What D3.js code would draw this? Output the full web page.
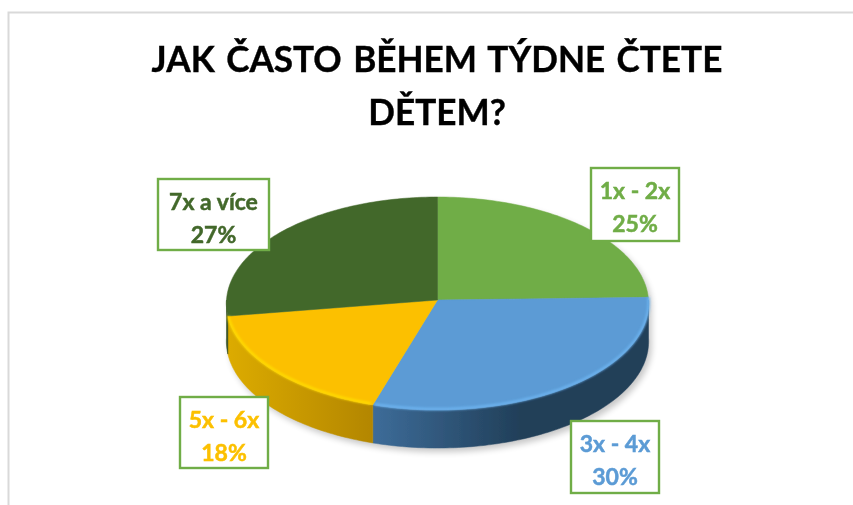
<!DOCTYPE html>
<html>
<head>
<meta charset="utf-8">
<script src="https://cdn.jsdelivr.net/npm/d3@7"></script>
<style>
  html, body { margin: 0; padding: 0; background: #fff; }
  svg { display: block; }
  text { font-family: Lato, "Open Sans", sans-serif; font-weight: 700; }
</style>
</head>
<body>
<div id="chart"></div>
<script>
var w = 853;
var h = 505;

var titleLines = ["JAK ČASTO BĚHEM TÝDNE ČTETE", "DĚTEM?"];
var categories = ["1x - 2x", "3x - 4x", "5x - 6x", "7x a více"];
var percentLabels = ["25%", "30%", "18%", "27%"];
var values = [24.6, 30.2, 17.8, 27.4];

var colors = ["#70ad47", "#5b9bd5", "#fcc000", "#43682b"];
var rimColors = [null, "#6db3ef", "#ffdc00", null];
var sideStops = [
  ["#3f6a2a", "#3f6a2a"],
  ["#3d6c99", "#213f59"],
  ["#dcab00", "#b38600"],
  ["#2e4a1d", "#2e4a1d"]
];
var sideRanges = [[640, 660], [373, 520], [228, 373], [220, 240]];
// label box: left, top, width, height
var boxes = [
  [591, 168, 88, 73],
  [571, 421, 88, 72],
  [180, 397, 88, 71],
  [158, 179, 111, 71]
];

var cx = 437.5;
var cy = 300;
var rx = 211;
var ry = 106.4;
var persp = 0.033;
var depth = 38;

function project(a, dy) {
  var s = 1 / (1 + persp * Math.cos(a));
  return [cx + rx * Math.sin(a) * s, cy - ry * Math.cos(a) * s + (dy || 0)];
}

function arcPoints(a0, a1, dy) {
  var n = Math.max(2, Math.ceil(Math.abs(a1 - a0) / 0.02));
  return d3.range(n + 1).map(function (i) {
    return project(a0 + ((a1 - a0) * i) / n, dy);
  });
}

var line = d3.line();

var pie = d3.pie().sort(null);
var slices = pie(values);

var svg = d3.select("#chart").append("svg").attr("width", w).attr("height", h);
var defs = svg.append("defs");

defs.append("filter").attr("id", "soft")
  .attr("x", "-10%").attr("y", "-10%").attr("width", "120%").attr("height", "120%")
  .append("feGaussianBlur").attr("stdDeviation", 3);
defs.append("filter").attr("id", "rimBlur")
  .attr("x", "-10%").attr("y", "-10%").attr("width", "120%").attr("height", "120%")
  .append("feGaussianBlur").attr("stdDeviation", 0.8);
// the reference is a slightly soft screenshot
defs.append("filter").attr("id", "page")
  .attr("filterUnits", "userSpaceOnUse")
  .attr("x", 0).attr("y", 0).attr("width", w).attr("height", h)
  .append("feGaussianBlur").attr("stdDeviation", 0.45);

slices.forEach(function (d, i) {
  var g = defs.append("linearGradient").attr("id", "side" + i)
    .attr("gradientUnits", "userSpaceOnUse")
    .attr("x1", sideRanges[i][0]).attr("x2", sideRanges[i][1])
    .attr("y1", 0).attr("y2", 0);
  g.append("stop").attr("offset", 0).attr("stop-color", sideStops[i][0]);
  g.append("stop").attr("offset", 1).attr("stop-color", sideStops[i][1]);
});

var page = svg.append("g").attr("filter", "url(#page)");

// page frame
page.append("path")
  .attr("d", "M8.5," + h + "V12.5H" + w)
  .attr("fill", "none")
  .attr("stroke", "#d9d9d9")
  .attr("stroke-width", 2);

// shadow under the disc
var front = arcPoints(Math.PI / 2, (3 * Math.PI) / 2, depth);
var back = arcPoints((3 * Math.PI) / 2, (5 * Math.PI) / 2, 0);
page.append("path")
  .attr("d", line(front.concat(back)) + "Z")
  .attr("transform", "translate(3,4)")
  .attr("fill", "#000")
  .attr("opacity", 0.22)
  .attr("filter", "url(#soft)");

// side wall, only the part of each slice facing the viewer
slices.forEach(function (d, i) {
  var a0 = Math.max(d.startAngle, Math.PI / 2);
  var a1 = Math.min(d.endAngle, (3 * Math.PI) / 2);
  if (a1 <= a0) return;
  var pts = arcPoints(a0, a1, 0).concat(arcPoints(a1, a0, depth));
  page.append("path")
    .attr("d", line(pts) + "Z")
    .attr("fill", "url(#side" + i + ")")
    .attr("stroke", "url(#side" + i + ")")
    .attr("stroke-width", 0.5);
});

// top face
page.selectAll("path.slice")
  .data(slices)
  .enter()
  .append("path")
  .attr("class", "slice")
  .attr("d", function (d) {
    return line([[cx, cy]].concat(arcPoints(d.startAngle, d.endAngle, 0))) + "Z";
  })
  .attr("fill", function (d, i) {
    return colors[i];
  })
  .attr("stroke", function (d, i) {
    return colors[i];
  })
  .attr("stroke-width", 0.5);

// lit bevel along the front edge
slices.forEach(function (d, i) {
  if (!rimColors[i]) return;
  page.append("path")
    .attr("d", line(arcPoints(d.startAngle + 0.01, d.endAngle - 0.01, -1)))
    .attr("fill", "none")
    .attr("stroke", rimColors[i])
    .attr("stroke-width", 2.5)
    .attr("filter", "url(#rimBlur)");
});

// title, squeezed a little since Lato runs wider than the original face
page.selectAll("text.title")
  .data(titleLines)
  .enter()
  .append("text")
  .attr("class", "title")
  .attr("transform", function (d, i) {
    return "translate(437," + (72 + i * 53) + ") scale(0.95,1)";
  })
  .attr("text-anchor", "middle")
  .attr("font-size", 37)
  .attr("word-spacing", 3)
  .attr("fill", "#000")
  .attr("stroke", "#000")
  .attr("stroke-width", 0.4)
  .text(function (d) {
    return d;
  });

// data labels
var labels = page.selectAll("g.label")
  .data(categories)
  .enter()
  .append("g")
  .attr("class", "label");

labels.append("rect")
  .attr("x", function (d, i) { return boxes[i][0]; })
  .attr("y", function (d, i) { return boxes[i][1]; })
  .attr("width", function (d, i) { return boxes[i][2]; })
  .attr("height", function (d, i) { return boxes[i][3]; })
  .attr("fill", "#fff")
  .attr("stroke", "#70ad47")
  .attr("stroke-width", 2.4);

labels.append("text")
  .attr("x", function (d, i) { return boxes[i][0] + boxes[i][2] / 2; })
  .attr("y", function (d, i) { return boxes[i][1] + 31; })
  .attr("text-anchor", "middle")
  .attr("font-size", 23)
  .attr("fill", function (d, i) { return colors[i]; })
  .attr("stroke", function (d, i) { return colors[i]; })
  .attr("stroke-width", 0.5)
  .text(function (d) { return d; });

labels.append("text")
  .attr("x", function (d, i) { return boxes[i][0] + boxes[i][2] / 2; })
  .attr("y", function (d, i) { return boxes[i][1] + 63.5; })
  .attr("text-anchor", "middle")
  .attr("font-size", 23)
  .attr("fill", function (d, i) { return colors[i]; })
  .attr("stroke", function (d, i) { return colors[i]; })
  .attr("stroke-width", 0.5)
  .text(function (d, i) { return percentLabels[i]; });
</script>
</body>
</html>
